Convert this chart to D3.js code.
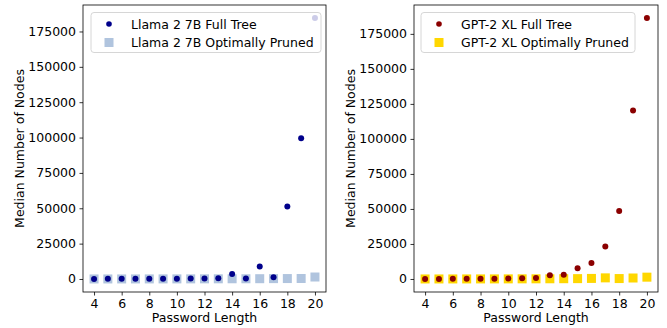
<!DOCTYPE html>
<html>
<head>
<meta charset="utf-8">
<script src="https://cdn.jsdelivr.net/npm/d3@7"></script>
<style>
  body { margin: 0; background: #fff; }
  text { font-family: "DejaVu Sans", sans-serif; }
</style>
</head>
<body>
<script>
// Median node counts per password length
const lengths = [4, 5, 6, 7, 8, 9, 10, 11, 12, 13, 14, 15, 16, 17, 18, 19, 20];

const llamaFull   = [60, 80, 100, 130, 150, 200, 250, 300, 400, 500, 3500, 300, 8800, 1200, 51200, 99500, 184500];
const llamaPruned = [20, 25, 30, 40, 50, 60, 70, 80, 100, 120, 150, 150, 200, 250, 300, 350, 1400];
const gptFull     = [50, 70, 90, 110, 150, 250, 400, 600, 700, 2600, 3000, 7600, 11500, 23200, 48500, 120300, 186300];
const gptPruned   = [20, 25, 30, 40, 50, 60, 80, 100, 120, 150, 200, 250, 400, 800, 300, 700, 1300];

const xTicks = [4, 6, 8, 10, 12, 14, 16, 18, 20];
const yTicks = [0, 25000, 50000, 75000, 100000, 125000, 150000, 175000];

const panels = [
  { left: 83, right: 326, full: llamaFull, pruned: llamaPruned,
    fullColor: "#00008b", prunedColor: "#b0c4de",
    fullLabel: "Llama 2 7B Full Tree", prunedLabel: "Llama 2 7B Optimally Pruned",
    legend: { x: 91, w: 230 } },
  { left: 414, right: 658, full: gptFull, pruned: gptPruned,
    fullColor: "#8b0000", prunedColor: "#ffd700",
    fullLabel: "GPT-2 XL Full Tree", prunedLabel: "GPT-2 XL Optimally Pruned",
    legend: { x: 421, w: 214 } }
];

const plotTop = 5, plotBottom = 292;
const fs = 12.5;

const svg = d3.select("body").append("svg")
  .attr("width", 667)
  .attr("height", 328);

panels.forEach(p => {
  const allVals = p.full.concat(p.pruned);
  const yMin = d3.min(allVals), yMax = d3.max(allVals);
  const pad = (yMax - yMin) * 0.05;

  const x = d3.scaleLinear().domain([3.2, 20.8]).range([p.left, p.right]);
  const y = d3.scaleLinear().domain([yMin - pad, yMax + pad]).range([plotBottom, plotTop]);

  const g = svg.append("g");

  // pruned squares under full-tree dots
  const sq = 9;
  g.selectAll("rect.pruned")
    .data(lengths)
    .enter()
    .append("rect")
    .attr("class", "pruned")
    .attr("x", d => x(d) - sq / 2)
    .attr("y", (d, i) => y(p.pruned[i]) - sq / 2)
    .attr("width", sq)
    .attr("height", sq)
    .style("fill", p.prunedColor);

  g.selectAll("circle.full")
    .data(lengths)
    .enter()
    .append("circle")
    .attr("class", "full")
    .attr("cx", d => x(d))
    .attr("cy", (d, i) => y(p.full[i]))
    .attr("r", 3)
    .style("fill", p.fullColor);

  // axes
  const xAxis = g.append("g")
    .attr("transform", `translate(0,${plotBottom})`)
    .call(d3.axisBottom(x).tickValues(xTicks).tickSize(3.5).tickPadding(3.5).tickFormat(d3.format("d")));
  const yAxis = g.append("g")
    .attr("transform", `translate(${p.left},0)`)
    .call(d3.axisLeft(y).tickValues(yTicks).tickSize(3.5).tickPadding(3.5).tickFormat(d3.format("d")));

  [xAxis, yAxis].forEach(a => {
    a.select(".domain").remove();
    a.selectAll("line").attr("stroke", "#000").attr("stroke-width", 0.8);
    a.selectAll("text").style("font-size", fs + "px").attr("fill", "#000")
      .style("font-family", "DejaVu Sans, sans-serif");
  });

  // frame
  g.append("rect")
    .attr("x", p.left)
    .attr("y", plotTop)
    .attr("width", p.right - p.left)
    .attr("height", plotBottom - plotTop)
    .style("fill", "none")
    .style("stroke", "#000")
    .style("stroke-width", 0.8);

  // axis labels
  g.append("text")
    .attr("x", (p.left + p.right) / 2)
    .attr("y", 322)
    .attr("text-anchor", "middle")
    .style("font-size", fs + "px")
    .text("Password Length");

  g.append("text")
    .attr("transform", `translate(${p.left - 59},${(plotTop + plotBottom) / 2}) rotate(-90)`)
    .attr("text-anchor", "middle")
    .style("font-size", fs + "px")
    .text("Median Number of Nodes");

  // legend
  const lg = g.append("g");
  lg.append("rect")
    .attr("x", p.legend.x)
    .attr("y", 12.5)
    .attr("width", p.legend.w)
    .attr("height", 40)
    .attr("rx", 3)
    .style("fill", "#fff")
    .style("fill-opacity", 0.8)
    .style("stroke", "#ccc")
    .style("stroke-width", 0.8);

  lg.append("circle")
    .attr("cx", p.legend.x + 18)
    .attr("cy", 24)
    .attr("r", 2.8)
    .style("fill", p.fullColor);
  lg.append("rect")
    .attr("x", p.legend.x + 18 - 4.5)
    .attr("y", 42.5 - 4.5)
    .attr("width", 9)
    .attr("height", 9)
    .style("fill", p.prunedColor);

  lg.append("text")
    .attr("x", p.legend.x + 40)
    .attr("y", 28.5)
    .style("font-size", fs + "px")
    .text(p.fullLabel);
  lg.append("text")
    .attr("x", p.legend.x + 40)
    .attr("y", 47)
    .style("font-size", fs + "px")
    .text(p.prunedLabel);
});
</script>
</body>
</html>
